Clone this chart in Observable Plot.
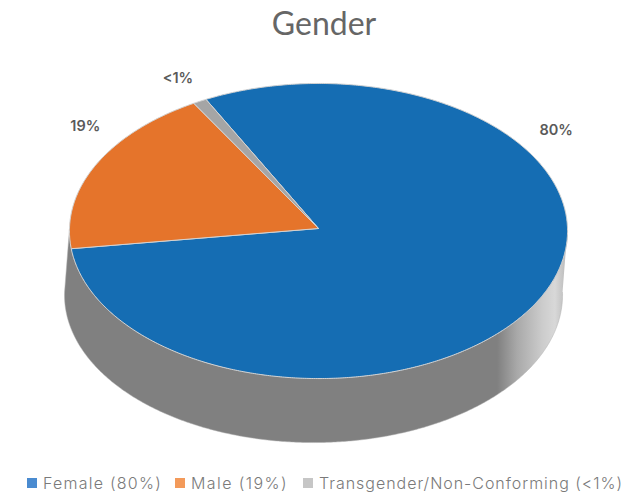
<!DOCTYPE html>
<html>
<head>
<meta charset="utf-8">
<script src="https://cdn.jsdelivr.net/npm/d3@7"></script>
<script src="https://cdn.jsdelivr.net/npm/@observablehq/plot@0.6"></script>
<style>
  html, body { margin: 0; padding: 0; background: #fff; }
  body { width: 626px; height: 496px; overflow: hidden; font-family: Inter, Lato, sans-serif; }
  #title { height: 46px; line-height: 46px; text-align: center; font-family: Lato, sans-serif; font-size: 32px; color: #666; padding-left: 22px; box-sizing: border-box; }
  #chart svg { display: block; }
  #legend { position: relative; height: 36px; }
  .item { position: absolute; top: 13px; display: flex; align-items: center; font-size: 16px; font-weight: 300; color: #7a7a7a; white-space: nowrap; }
  .sw { width: 10px; height: 10px; margin-right: 6px; }
</style>
</head>
<body>
<div id="title">Gender</div>
<div id="chart"></div>
<div id="legend"></div>
<script>
// ---- data ----
const categories = ["Female", "Male", "Transgender/Non-Conforming"];
const values = [80.4, 18.7, 0.9];
const labels = ["80%", "19%", "<1%"];
const legendLabels = ["Female (80%)", "Male (19%)", "Transgender/Non-Conforming (<1%)"];
const colors = ["#156db3", "#e5742b", "#a5a5a5"];
const legendColors = ["#4a8bd0", "#f39a5a", "#c6c6c6"];

// ---- layout ----
const startDeg = -27.3;          // angle of first slice (clockwise from 12 o'clock)
const persp = 0.017;             // slight perspective
const depth = 0.434;             // side height (in y units)
const sideShift = -0.02;         // bottom ellipse shift (x units)
const labelAngles = [55, 306.5, 331];
const labelRadius = 1.165;
const legendX = [27, 175, 303];
const legendTextWidths = [119, 97, 304];

const rad = Math.PI / 180;
function proj(t) {
  const X = Math.sin(t), Z = Math.cos(t), w = 1 + persp * Z;
  return {x: X / w, y: -Z / w};
}

const arcs = d3.pie().sort(null).startAngle(startDeg * rad).endAngle(startDeg * rad + 2 * Math.PI)(values);

const sliceRows = [];
arcs.forEach((a, i) => {
  const n = Math.max(2, Math.ceil((a.endAngle - a.startAngle) / (0.5 * rad)) + 1);
  sliceRows.push({category: categories[i], x: 0, y: 0});
  for (let k = 0; k < n; k++) {
    const t = a.startAngle + (a.endAngle - a.startAngle) * k / (n - 1);
    const p = proj(t);
    sliceRows.push({category: categories[i], x: p.x, y: p.y});
  }
  sliceRows.push({category: categories[i], x: 0, y: 0});
});

const sideRows = [];
for (let k = 0; k <= 360; k++) {
  const p = proj(Math.PI / 2 + Math.PI * k / 360);
  sideRows.push({x: p.x, y: p.y});
}
for (let k = 360; k >= 0; k--) {
  const p = proj(Math.PI / 2 + Math.PI * k / 360);
  sideRows.push({x: p.x + sideShift, y: p.y + depth});
}

const labelRows = labels.map((l, i) => ({
  text: l,
  x: labelRadius * Math.sin(labelAngles[i] * rad),
  y: -labelRadius * Math.cos(labelAngles[i] * rad)
}));

const svg = Plot.plot({
  width: 626,
  height: 414,
  margin: 0,
  x: {domain: [-1, 1], range: [69, 567], axis: null},
  y: {domain: [-1, 1], range: [182 - 147.5, 182 + 147.5], axis: null},
  color: {domain: categories, range: colors},
  marks: [
    Plot.line(sideRows, {x: "x", y: "y", fill: "url(#sideGrad)", stroke: "#b0b0b0", strokeWidth: 0.5, curve: "linear"}),
    Plot.line(sliceRows, {x: "x", y: "y", z: "category", fill: "category", stroke: "#d2d2d2", strokeWidth: 1, strokeLinejoin: "round", curve: "linear"}),
    Plot.text(labelRows, {x: "x", y: "y", text: "text", fontSize: 14.5, fontWeight: 600, fill: "#5a5a5a", fontFamily: "Inter, sans-serif"})
  ]
});

const defs = d3.select(svg).insert("defs", ":first-child");
const g = defs.append("linearGradient").attr("id", "sideGrad").attr("x1", 0).attr("x2", 1).attr("y1", 0).attr("y2", 0);
[[0, "#808080"], [0.86, "#808080"], [0.9, "#a9a9a9"], [0.95, "#cccccc"], [0.975, "#d8d8d8"], [1, "#b8b8b8"]]
  .forEach(([o, c]) => g.append("stop").attr("offset", o).attr("stop-color", c));

document.getElementById("chart").appendChild(svg);

const legend = document.getElementById("legend");
legendLabels.forEach((l, i) => {
  const it = document.createElement("div");
  it.className = "item";
  it.style.left = legendX[i] + "px";
  const sw = document.createElement("div");
  sw.className = "sw";
  sw.style.background = legendColors[i];
  const tx = document.createElement("span");
  tx.textContent = l;
  it.appendChild(sw);
  it.appendChild(tx);
  legend.appendChild(it);
  const w = tx.getBoundingClientRect().width;
  const ls = (legendTextWidths[i] - w) / l.length;
  tx.style.letterSpacing = ls.toFixed(2) + "px";
});
</script>
</body>
</html>
